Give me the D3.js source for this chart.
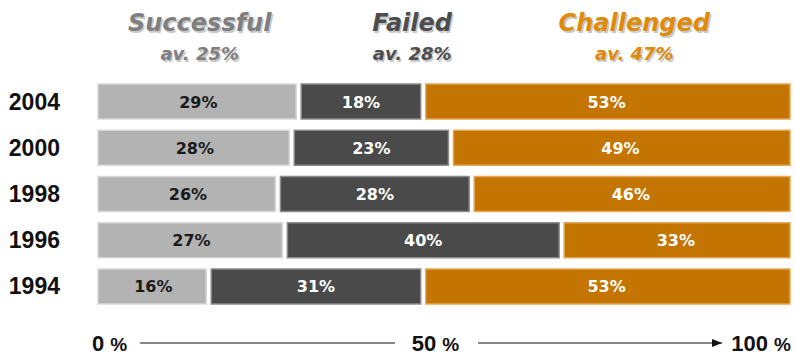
<!DOCTYPE html>
<html>
<head>
<meta charset="utf-8">
<script src="https://cdn.jsdelivr.net/npm/d3@7"></script>
<style>
  body { margin: 0; background: #fff; }
  svg { display: block; }
</style>
</head>
<body>
<div id="main"></div>
<script>
// chaos report style: project outcomes by survey year
let years = ['2004', '2000', '1998', '1996', '1994'];
let successful = [29, 28, 26, 27, 16];
let failed = [18, 23, 28, 40, 31];
let challenged = [53, 49, 46, 33, 53];
let categories = ['Successful', 'Failed', 'Challenged'];
let averages = ['av. 25%', 'av. 28%', 'av. 47%'];
let axisTicks = [0, 50, 100];

let [width, height] = [795, 356];
let fills = ['#b3b3b3', '#4a4a4a', '#c47400'];
let edges = ['#d9d9d9', '#8c8c8c', '#e6a85a'];
let labelFills = ['#1a1a1a', '#ffffff', '#ffffff'];
let headFills = ['#7f7f7f', '#4d4d4d', '#e08a0a'];
let headAt = [14.7, 45.4, 77.5]; // header centers, in % of the bar

let svg = d3.select('#main')
  .append('svg')
  .attr('width', width)
  .attr('height', height);

let x = d3.scaleLinear().domain([0, 100]).range([98, 790]);
let y = d3.scaleBand().domain(years).range([84, 304]).paddingInner(0.243).paddingOuter(0);

// stack the three series
let rows = years.map((yr, i) => {
  let vals = [successful[i], failed[i], challenged[i]];
  let acc = 0;
  return vals.map((v, k) => {
    let seg = {year: yr, k, v, x0: acc, x1: acc + v};
    acc += v;
    return seg;
  });
});
let segs = rows.flat();

let gap = 2.5;
svg.selectAll('.seg')
  .data(segs)
  .join('rect')
  .attr('class', 'seg')
  .attr('x', d => x(d.x0) + (d.k > 0 ? gap : 0))
  .attr('y', d => y(d.year))
  .attr('width', d => x(d.x1) - x(d.x0) - (d.k > 0 ? gap : 0) - (d.k < 2 ? gap : 0))
  .attr('height', y.bandwidth())
  .attr('fill', d => fills[d.k])
  .attr('stroke', d => edges[d.k])
  .attr('stroke-width', 1.5);

svg.selectAll('.segLabel')
  .data(segs)
  .join('text')
  .attr('class', 'segLabel')
  .attr('x', d => x((d.x0 + d.x1) / 2))
  .attr('y', d => y(d.year) + y.bandwidth() / 2 + 6)
  .attr('text-anchor', 'middle')
  .attr('fill', d => labelFills[d.k])
  .style('font-family', '"DejaVu Sans", sans-serif')
  .style('font-weight', 'bold')
  .style('font-size', '16px')
  .text(d => `${d.v}%`);

// year labels
svg.selectAll('.year')
  .data(years)
  .join('text')
  .attr('class', 'year')
  .attr('x', 60)
  .attr('y', d => y(d) + y.bandwidth() / 2 + 8)
  .attr('text-anchor', 'end')
  .attr('fill', '#111')
  .style('font-family', '"Liberation Sans", Arial, sans-serif')
  .style('font-weight', 'bold')
  .style('font-size', '23px')
  .text(d => d);

// headers with a soft drop shadow
function header(text, k, yy, size){
  let g = svg.append('g');
  [['#c8c8c8', 1.5], [headFills[k], 0]].forEach(([c, off]) => {
    g.append('text')
      .attr('x', x(headAt[k]) + off)
      .attr('y', yy + off)
      .attr('text-anchor', 'middle')
      .attr('fill', c)
      .style('font-family', '"DejaVu Sans", sans-serif')
      .style('font-weight', 'bold')
      .style('font-style', 'italic')
      .style('font-size', size)
      .text(text);
  });
}
categories.forEach((c, k) => header(c, k, 31, '24px'));
averages.forEach((a, k) => header(a, k, 60, '18px'));

// bottom axis
let ay = 343;
let tickText = svg.selectAll('.tick')
  .data(axisTicks)
  .join('text')
  .attr('class', 'tick')
  .attr('x', d => d === 0 ? x(d) - 6 : d === 50 ? x(d) - 9 : x(d))
  .attr('y', ay + 8)
  .attr('text-anchor', d => d === 0 ? 'start' : d === 50 ? 'middle' : 'end')
  .attr('fill', '#111')
  .style('font-family', '"Liberation Sans", Arial, sans-serif')
  .style('font-weight', 'bold')
  .style('font-size', '22px');
tickText.append('tspan').text(d => `${d} `);
tickText.append('tspan')
  .style('font-family', '"Liberation Sans Narrow", "Arial Narrow", sans-serif')
  .style('font-size', '19px')
  .style('letter-spacing', '-1px')
  .text('%');

svg.append('defs').append('marker')
  .attr('id', 'arrow')
  .attr('viewBox', '0 0 10 8')
  .attr('refX', 10).attr('refY', 4)
  .attr('markerWidth', 10).attr('markerHeight', 8)
  .attr('markerUnits', 'userSpaceOnUse')
  .attr('orient', 'auto')
  .append('path')
  .attr('d', 'M0,0L10,4L0,8Z')
  .attr('fill', '#111');

svg.append('line')
  .attr('x1', x(0) + 42).attr('x2', x(50) - 49)
  .attr('y1', ay).attr('y2', ay)
  .attr('stroke', '#111').attr('stroke-width', 1.2);
svg.append('line')
  .attr('x1', x(50) + 34).attr('x2', x(100) - 68)
  .attr('y1', ay).attr('y2', ay)
  .attr('stroke', '#111').attr('stroke-width', 1.2)
  .attr('marker-end', 'url(#arrow)');
</script>
</body>
</html>
